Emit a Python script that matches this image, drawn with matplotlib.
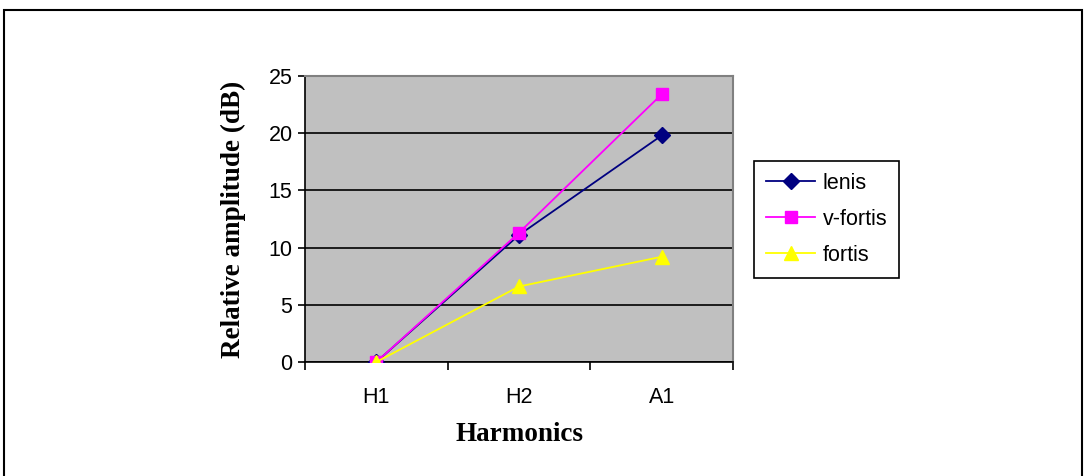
import numpy as np
import matplotlib.pyplot as plt
from matplotlib.patches import Rectangle

# === Data ===
categories = ["H1", "H2", "A1"]
lenis = [0.0, 11.1, 19.8]
v_fortis = [0.0, 11.3, 23.4]
fortis = [0.0, 6.6, 9.2]

fig = plt.figure(figsize=(10.84, 4.76), dpi=100)
ax = fig.add_axes([305/1084, 1-362/476, (733-305)/1084, (362-76)/476])
ax.set_facecolor("#C0C0C0")

x = np.arange(len(categories))
ax.plot(x, lenis, color="#000080", marker="D", markersize=8, lw=1.3, label="lenis", zorder=3)
ax.plot(x, v_fortis, color="#FF00FF", marker="s", markersize=9, lw=1.3, label="v-fortis", zorder=3)
ax.plot(x, fortis, color="#FFFF00", marker="^", markersize=10, lw=1.3, label="fortis", zorder=3)

# axes
ax.set_xlim(-0.5, 2.5)
ax.set_ylim(0, 25)
ax.set_yticks([0, 5, 10, 15, 20, 25])
ax.yaxis.grid(True, color="black", lw=1.2)
ax.set_axisbelow(True)
ax.set_xticks([-0.5, 0.5, 1.5, 2.5])
ax.set_xticklabels([])
ax.set_xticks(x, minor=True)
ax.set_xticklabels(categories, minor=True, fontsize=15.5, family="Liberation Sans")
ax.tick_params(axis="x", which="major", direction="out", length=6, width=1.2)
ax.tick_params(axis="x", which="minor", length=0, pad=18)
ax.tick_params(axis="y", direction="out", length=5, width=1.2, pad=4)
for lbl in ax.get_yticklabels():
    lbl.set_fontsize(15.5)
    lbl.set_family("Liberation Sans")

ax.spines["left"].set_color("black")
ax.spines["bottom"].set_color("black")
ax.spines["left"].set_linewidth(1.2)
ax.spines["bottom"].set_linewidth(1.2)
ax.spines["top"].set_color("#808080")
ax.spines["right"].set_color("#808080")
ax.spines["top"].set_linewidth(1.5)
ax.spines["right"].set_linewidth(1.5)

ax.set_ylabel("Relative amplitude (dB)", fontsize=19.5, fontweight="bold",
              family="Liberation Serif", labelpad=16)
ax.set_xlabel("Harmonics", fontsize=19.5, fontweight="bold",
              family="Liberation Serif", labelpad=10)

leg = ax.legend(loc="upper left", bbox_to_anchor=(754/1084, 1-161/476),
                bbox_transform=fig.transFigure, fancybox=False, framealpha=1,
                edgecolor="black", prop={"family": "Liberation Sans", "size": 15.5},
                handlelength=2.3, borderpad=0.55, labelspacing=0.7, handletextpad=0.35,
                borderaxespad=0)
leg.get_frame().set_linewidth(1.2)

# outer chart border
fig.patches.append(Rectangle((4/1084, -0.1), 1078/1084, 1.1 - 10/476,
                             transform=fig.transFigure, fill=False,
                             edgecolor="black", lw=1.5))

fig.savefig("out.png", dpi=100)
